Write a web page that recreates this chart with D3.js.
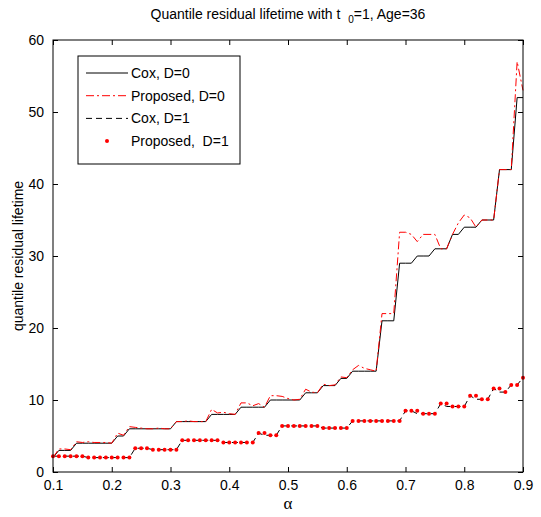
<!DOCTYPE html>
<html>
<head>
<meta charset="utf-8">
<script src="https://cdn.jsdelivr.net/npm/d3@7"></script>
<style>
  body { margin: 0; background: #fff; }
  svg { display: block; font-family: "Liberation Sans", Arial, sans-serif; }
</style>
</head>
<body>
<div id="chart"></div>
<script>
// DATA
const alpha = [0.10, 0.11, 0.12, 0.13, 0.14, 0.15, 0.16, 0.17, 0.18, 0.19,
  0.20, 0.21, 0.22, 0.23, 0.24, 0.25, 0.26, 0.27, 0.28, 0.29,
  0.30, 0.31, 0.32, 0.33, 0.34, 0.35, 0.36, 0.37, 0.38, 0.39,
  0.40, 0.41, 0.42, 0.43, 0.44, 0.45, 0.46, 0.47, 0.48, 0.49,
  0.50, 0.51, 0.52, 0.53, 0.54, 0.55, 0.56, 0.57, 0.58, 0.59,
  0.60, 0.61, 0.62, 0.63, 0.64, 0.65, 0.66, 0.67, 0.68, 0.69,
  0.70, 0.71, 0.72, 0.73, 0.74, 0.75, 0.76, 0.77, 0.78, 0.79,
  0.80, 0.81, 0.82, 0.83, 0.84, 0.85, 0.86, 0.87, 0.88, 0.89, 0.90];

const coxD0 = [2, 3, 3, 3, 4, 4, 4, 4, 4, 4,
  4, 5, 5, 6, 6, 6, 6, 6, 6, 6,
  6, 7, 7, 7, 7, 7, 7, 8, 8, 8,
  8, 8, 9, 9, 9, 9, 9, 10, 10, 10,
  10, 10, 10, 11, 11, 11, 12, 12, 12, 13,
  13, 14, 14, 14, 14, 14, 21, 21, 21, 29,
  29, 29, 30, 30, 30, 31, 31, 31, 33, 33,
  34, 34, 34, 35, 35, 35, 42, 42, 42, 52, 52];

const propD0 = [2, 3.2, 3.2, 3.1, 4.2, 4.1, 4.2, 4.1, 4.1, 4.1,
  4.0, 5.4, 5.1, 6.3, 6.2, 6.1, 6.0, 6.0, 6.1, 6.0,
  6.0, 7.0, 7.0, 7.1, 7.0, 7.0, 7.0, 8.7, 8.2, 8.3,
  8.1, 8.0, 9.6, 9.6, 9.2, 9.5, 9.0, 10.6, 10.6, 10.5,
  10.2, 10.0, 10.1, 11.5, 11.1, 11.0, 12.2, 12.0, 12.1, 13.2,
  13.1, 14.2, 14.8, 14.4, 14.2, 14.0, 22, 22, 22, 33.3,
  33.3, 33.0, 32.0, 33.0, 33.0, 33.0, 31.0, 31.0, 33.0, 34.6,
  35.7, 35.3, 34.0, 35, 35, 35, 42, 42, 42, 57, 53];

const coxD1 = [2.2, 2.2, 2.2, 2.2, 2.2, 2.2, 2.0, 2.0, 2.0, 2.0,
  2.0, 2.0, 2.0, 2.0, 3.3, 3.3, 3.3, 3.1, 3.1, 3.1,
  3.1, 3.1, 4.4, 4.4, 4.4, 4.4, 4.4, 4.4, 4.4, 4.1,
  4.1, 4.1, 4.1, 4.1, 4.1, 5.4, 5.1, 5.1, 5.1, 6.4,
  6.4, 6.4, 6.4, 6.4, 6.4, 6.4, 6.1, 6.1, 6.1, 6.1,
  6.1, 7.1, 7.1, 7.1, 7.1, 7.1, 7.1, 7.1, 7.1, 7.1,
  8.5, 8.5, 8.1, 8.1, 8.1, 8.1, 9.5, 9.1, 9.1, 9.1,
  9.1, 10.6, 10.1, 10.1, 10.1, 11.6, 11.1, 11.1, 12.1, 12.1, 13.1];

const propD1 = [2.2, 2.2, 2.2, 2.2, 2.2, 2.2, 2.0, 2.0, 2.0, 2.0,
  2.0, 2.0, 2.0, 2.0, 3.3, 3.3, 3.3, 3.1, 3.1, 3.1,
  3.1, 3.1, 4.4, 4.4, 4.4, 4.4, 4.4, 4.4, 4.4, 4.1,
  4.1, 4.1, 4.1, 4.1, 4.1, 5.4, 5.4, 5.1, 5.1, 6.4,
  6.4, 6.4, 6.4, 6.4, 6.4, 6.4, 6.1, 6.1, 6.1, 6.1,
  6.1, 7.1, 7.1, 7.1, 7.1, 7.1, 7.1, 7.1, 7.1, 7.1,
  8.5, 8.5, 8.5, 8.1, 8.1, 8.1, 9.5, 9.5, 9.1, 9.1,
  9.1, 10.6, 10.6, 10.1, 10.1, 11.6, 11.6, 11.1, 12.1, 12.1, 13.1];

const xTicks = [0.1, 0.2, 0.3, 0.4, 0.5, 0.6, 0.7, 0.8, 0.9];
const yTicks = [0, 10, 20, 30, 40, 50, 60];
const legendNames = ["Cox, D=0", "Proposed, D=0", "Cox, D=1", "Proposed,  D=1"];

// LAYOUT
const W = 541, H = 517;
const margin = { top: 40, right: 18, bottom: 45, left: 53 };
const width = W - margin.left - margin.right;
const height = H - margin.top - margin.bottom;

const svg = d3.select("#chart").append("svg")
  .attr("width", W)
  .attr("height", H);

const g = svg.append("g")
  .attr("transform", `translate(${margin.left},${margin.top})`);

const xScale = d3.scaleLinear().domain([0.1, 0.9]).range([0, width]);
const yScale = d3.scaleLinear().domain([0, 60]).range([height, 0]);

// AXES (matlab style: ticks inside, box on)
const tickLen = 5;
const styleAxis = sel => {
  sel.select(".domain").remove();
  sel.selectAll("line").attr("stroke", "#000");
  sel.selectAll("text").attr("fill", "#000").style("font-size", "14px");
};

g.append("g")
  .attr("transform", `translate(0,${height})`)
  .call(d3.axisBottom(xScale).tickValues(xTicks).tickFormat(d3.format(".1f"))
    .tickSizeInner(-tickLen).tickSizeOuter(0).tickPadding(8))
  .call(styleAxis);

g.append("g")
  .call(d3.axisTop(xScale).tickValues(xTicks).tickFormat("")
    .tickSizeInner(-tickLen).tickSizeOuter(0))
  .call(styleAxis);

g.append("g")
  .call(d3.axisLeft(yScale).tickValues(yTicks)
    .tickSizeInner(-tickLen).tickSizeOuter(0).tickPadding(9))
  .call(styleAxis);

g.append("g")
  .attr("transform", `translate(${width},0)`)
  .call(d3.axisRight(yScale).tickValues(yTicks).tickFormat("")
    .tickSizeInner(-tickLen).tickSizeOuter(0))
  .call(styleAxis);

// LINES
const lineOf = vals => d3.line()
  .x((d, i) => xScale(alpha[i]))
  .y(d => yScale(d))(vals);

g.append("path")
  .attr("d", lineOf(coxD0))
  .attr("fill", "none")
  .attr("stroke", "#000")
  .attr("stroke-width", 1);

g.append("path")
  .attr("d", lineOf(propD0))
  .attr("fill", "none")
  .attr("stroke", "#ff0000")
  .attr("stroke-width", 1)
  .attr("stroke-dasharray", "8,3,2,3");

g.append("path")
  .attr("d", lineOf(coxD1))
  .attr("fill", "none")
  .attr("stroke", "#000")
  .attr("stroke-width", 1)
  .attr("stroke-dasharray", "6,4");

g.selectAll(".dot")
  .data(propD1)
  .enter()
  .append("circle")
  .attr("class", "dot")
  .attr("cx", (d, i) => xScale(alpha[i]))
  .attr("cy", d => yScale(d))
  .attr("r", 2)
  .attr("fill", "#ff0000");

// FRAME
g.append("rect")
  .attr("width", width)
  .attr("height", height)
  .attr("fill", "none")
  .attr("stroke", "#000")
  .attr("stroke-width", 1);

// LEGEND
const legend = g.append("g").attr("transform", "translate(25,16)");
legend.append("rect")
  .attr("width", 162)
  .attr("height", 108)
  .attr("fill", "#fff")
  .attr("stroke", "#000");

const rowY = i => 17 + i * 22.7;
const sample = [
  { stroke: "#000", dash: null },
  { stroke: "#ff0000", dash: "8,3,2,3" },
  { stroke: "#000", dash: "6,4" },
  null
];
legendNames.forEach((name, i) => {
  if (sample[i]) {
    legend.append("line")
      .attr("x1", 8).attr("x2", 50)
      .attr("y1", rowY(i)).attr("y2", rowY(i))
      .attr("stroke", sample[i].stroke)
      .attr("stroke-dasharray", sample[i].dash);
  } else {
    legend.append("circle")
      .attr("cx", 29).attr("cy", rowY(i))
      .attr("r", 2).attr("fill", "#ff0000");
  }
  legend.append("text")
    .attr("x", 53)
    .attr("y", rowY(i) + 5)
    .style("font-size", "14px")
    .style("white-space", "pre")
    .attr("xml:space", "preserve")
    .text(name);
});

// TITLE & LABELS
const title = svg.append("text")
  .attr("x", margin.left + width / 2)
  .attr("y", 19)
  .attr("text-anchor", "middle")
  .style("font-size", "14px")
  .attr("xml:space", "preserve");
title.append("tspan").text("Quantile residual lifetime with t  ");
title.append("tspan").attr("dy", 4).style("font-size", "10px").text("0");
title.append("tspan").attr("dy", -4).text("=1, Age=36");

svg.append("text")
  .attr("transform", `translate(23,${margin.top + height / 2}) rotate(-90)`)
  .attr("text-anchor", "middle")
  .style("font-size", "14px")
  .text("quantile residual lifetime");

svg.append("text")
  .attr("x", margin.left + width / 2)
  .attr("y", 509)
  .attr("text-anchor", "middle")
  .style("font-family", "'Liberation Serif', serif")
  .style("font-size", "17px")
  .text("α");
</script>
</body>
</html>
